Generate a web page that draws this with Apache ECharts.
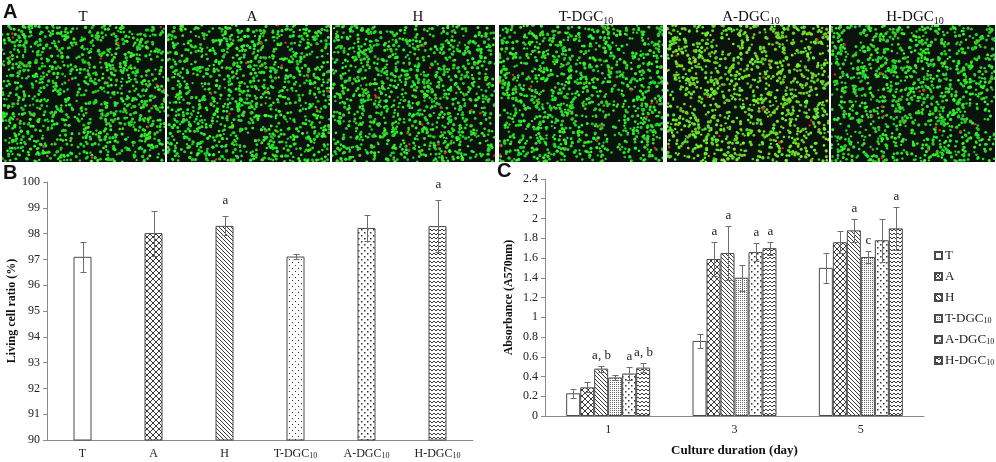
<!DOCTYPE html>
<html>
<head>
<meta charset="utf-8">
<script src="https://cdn.jsdelivr.net/npm/echarts@6/dist/echarts.min.js"></script>
<style>
html,body{margin:0;padding:0;background:#fff;}
#container{width:996px;height:462px;}
</style>
</head>
<body>
<div id="container"></div>
<script>
// groups (used for panel B categories and panel C series)
var groups = ['T', 'A', 'H', 'T-DGC10', 'A-DGC10', 'H-DGC10'];

// panel B: living cell ratio (%)
var ratioVal  = [97.10, 98.02, 98.30, 97.11, 98.22, 98.29];
var ratioErr  = [0.58, 0.87, 0.37, 0.11, 0.50, 1.01];
var ratioMark = ['', '', 'a', '', '', 'a'];

// panel C: absorbance by culture day
var days = ['1', '3', '5'];
var absT  = [0.23, 0.76, 1.50];
var absA  = [0.29, 1.59, 1.76];
var absH  = [0.48, 1.65, 1.88];
var absTD = [0.39, 1.40, 1.61];
var absAD = [0.43, 1.66, 1.78];
var absHD = [0.49, 1.70, 1.90];
var errT  = [0.045, 0.07, 0.15];
var errA  = [0.05, 0.17, 0.11];
var errH  = [0.03, 0.27, 0.12];
var errTD = [0.03, 0.13, 0.06];
var errAD = [0.07, 0.09, 0.22];
var errHD = [0.045, 0.065, 0.22];
var markT  = ['', '', ''];
var markA  = ['', 'a', ''];
var markH  = ['a, b', 'a', 'a'];
var markTD = ['', '', 'c'];
var markAD = ['a', 'a', ''];
var markHD = ['a, b', 'a', 'a'];

var SERIF = '"Liberation Serif", "Times New Roman", serif';

// ---- fill patterns ----
function pat(kind){
	var c = document.createElement('canvas');
	var sz = {cross:[6,6], diag:[4,4], fine:[2,2], sparse:[6,6], confetti:[6,6], zig:[4,4]}[kind];
	c.width = sz[0]; c.height = sz[1];
	var g = c.getContext('2d');
	g.fillStyle = '#fff'; g.fillRect(0, 0, c.width, c.height);
	g.strokeStyle = '#222'; g.fillStyle = '#333'; g.lineWidth = 0.9;
	g.beginPath();
	if(kind == 'cross'){
		g.moveTo(0,0); g.lineTo(6,6); g.moveTo(6,0); g.lineTo(0,6);
	}else if(kind == 'diag'){
		g.moveTo(-1,-1); g.lineTo(5,5); g.moveTo(3,-1); g.lineTo(5,1); g.moveTo(-1,3); g.lineTo(1,5);
	}else if(kind == 'zig'){
		g.moveTo(0,3); g.lineTo(2,1); g.lineTo(4,3);
	}
	g.stroke();
	if(kind == 'fine'){ g.fillStyle = '#666'; g.fillRect(0,0,1,1); }
	if(kind == 'sparse'){ g.fillRect(1,1,1,1); g.fillRect(4,4,1,1); }
	if(kind == 'confetti'){ g.fillRect(1,1,1.5,1.5); g.fillRect(4,4,1.5,1.5); }
	return {image: c, repeat: 'repeat'};
}
var fillsB = ['#fff', pat('cross'), pat('diag'), pat('sparse'), pat('confetti'), pat('zig')];
var fillsC = ['#fff', pat('cross'), pat('diag'), pat('fine'), pat('confetti'), pat('zig')];

// ---- microscopy-like textures for panel A ----
function cells(seed, w, h, tint){
	var c = document.createElement('canvas');
	c.width = w; c.height = h;
	var g = c.getContext('2d');
	var s = seed >>> 0;
	function r(){ s = (s * 1664525 + 1013904223) >>> 0; return s / 4294967296; }
	g.fillStyle = '#0a120c'; g.fillRect(0, 0, w, h);
	for(var i = 0; i < 1150; i++){
		var x = r() * w, y = r() * h, rad = 1.1 + r() * 0.6;
		var gr = Math.round(190 + r() * 65);
		g.fillStyle = 'rgb(' + Math.round(20 + r() * 50 + tint) + ',' + gr + ',' + Math.round(20 + r() * 40) + ')';
		g.beginPath(); g.arc(x, y, rad, 0, Math.PI * 2); g.fill();
	}
	for(var k = 0; k < 14; k++){
		g.fillStyle = '#e02424';
		g.beginPath(); g.arc(r() * w, r() * h, 1.2, 0, Math.PI * 2); g.fill();
	}
	return c;
}
var imgBoxes = [[2,165],[167,330],[332,495],[499,663],[667,829],[831,995]];
var titleX = [83, 252, 418, 586, 751, 915];

function sub(name){ return name.replace('10', '{s|10}'); }

function errBars(marks, offset, gap){
	return function(params, api){
		var cat = api.value(0), v = api.value(1), e = api.value(2);
		var x = Math.round(api.coord([cat, v])[0] + offset) + 0.5;
		var top = Math.round(api.coord([cat, v + e])[1]) + 0.5;
		var bot = Math.round(api.coord([cat, v - e])[1]) + 0.5;
		var ls = {stroke: '#6e6e6e', lineWidth: 1};
		var kids = [
			{type: 'line', shape: {x1: x, y1: top, x2: x, y2: bot}, style: ls},
			{type: 'line', shape: {x1: x - 3, y1: top, x2: x + 3, y2: top}, style: ls},
			{type: 'line', shape: {x1: x - 3, y1: bot, x2: x + 3, y2: bot}, style: ls}
		];
		var m = marks[params.dataIndex];
		if(m) kids.push({type: 'text', style: {text: m, x: x, y: top - gap, align: 'center', verticalAlign: 'bottom',
			font: '13px ' + SERIF, fill: '#222'}});
		return {type: 'group', children: kids};
	};
}

var myChart = echarts.init(document.getElementById('container'));

var graphic = [
	{type: 'text', left: 3, top: 2, style: {text: 'A', font: 'bold 20px "Liberation Sans", Arial', fill: '#111'}},
	{type: 'text', left: 3, top: 163, style: {text: 'B', font: 'bold 20px "Liberation Sans", Arial', fill: '#111'}},
	{type: 'text', left: 497, top: 161, style: {text: 'C', font: 'bold 20px "Liberation Sans", Arial', fill: '#111'}}
];
imgBoxes.forEach(function(b, i){
	graphic.push({type: 'image', x: b[0], y: 25, style: {image: cells(7919 * (i + 3), b[1] - b[0], 137, i == 4 ? 60 : 0), x: 0, y: 0, width: b[1] - b[0], height: 137}});
	graphic.push({type: 'text', x: titleX[i], y: 17, style: {text: sub(groups[i]), align: 'center', verticalAlign: 'middle',
		font: '15px ' + SERIF, fill: '#111', rich: {s: {fontSize: 10, fontFamily: SERIF, fill: '#111', padding: [9, 0, 0, 0]}}}});
});

var seriesC = [];
var absList  = [absT, absA, absH, absTD, absAD, absHD];
var errList  = [errT, errA, errH, errTD, errAD, errHD];
var markList = [markT, markA, markH, markTD, markAD, markHD];
var BW = 14;
groups.forEach(function(gname, i){
	seriesC.push({
		name: gname, type: 'bar', xAxisIndex: 1, yAxisIndex: 1, barWidth: BW, barGap: '0%',
		data: absList[i],
		itemStyle: {color: fillsC[i], borderColor: '#4a4a4a', borderWidth: 1}
	});
});
groups.forEach(function(gname, i){
	seriesC.push({
		type: 'custom', xAxisIndex: 1, yAxisIndex: 1, z: 5,
		renderItem: errBars(markList[i], (i - 2.5) * BW, 4),
		data: days.map(function(d, j){ return [j, absList[i][j], errList[i][j]]; })
	});
});

var axisLbl = {fontFamily: SERIF, fontSize: 12, color: '#222'};
var option = {
	animation: false,
	backgroundColor: '#fff',
	graphic: graphic,
	grid: [
		{left: 47, top: 182, width: 426, height: 258},
		{left: 545, top: 179, width: 379, height: 246}
	],
	legend: {
		orient: 'vertical', left: 929, top: 244, icon: 'rect', itemWidth: 7, itemHeight: 7, itemGap: 8,
		data: groups,
		formatter: function(n){ return sub(n); },
		textStyle: {fontFamily: SERIF, fontSize: 13, color: '#222', padding: [0, 0, 0, -2],
			rich: {s: {fontFamily: SERIF, fontSize: 8, color: '#222', padding: [4, 0, 0, 0]}}}
	},
	xAxis: [
		{gridIndex: 0, type: 'category', data: groups,
			axisLine: {lineStyle: {color: '#8a8a8a'}}, axisTick: {show: false},
			axisLabel: {interval: 0, fontFamily: SERIF, fontSize: 12, color: '#222', margin: 8, formatter: function(v){ return sub(v); },
				rich: {s: {fontFamily: SERIF, fontSize: 8, color: '#222', padding: [4, 0, 0, 0]}}}},
		{gridIndex: 1, type: 'category', data: days,
			axisLine: {lineStyle: {color: '#8a8a8a'}}, axisTick: {show: false},
			axisLabel: {fontFamily: SERIF, fontSize: 12, color: '#222', margin: 8},
			name: 'Culture duration (day)', nameLocation: 'middle', nameGap: 28,
			nameTextStyle: {fontFamily: SERIF, fontSize: 13, fontWeight: 'bold', color: '#111'}}
	],
	yAxis: [
		{gridIndex: 0, type: 'value', min: 90, max: 100, interval: 1,
			axisLine: {show: true, lineStyle: {color: '#8a8a8a'}}, axisTick: {show: true, length: 4, lineStyle: {color: '#8a8a8a'}},
			splitLine: {show: false}, axisLabel: Object.assign({margin: 7}, axisLbl),
			name: 'Living cell ratio (%)', nameLocation: 'middle', nameGap: 26,
			nameTextStyle: {fontFamily: SERIF, fontSize: 12, fontWeight: 'bold', color: '#111'}},
		{gridIndex: 1, type: 'value', min: 0, max: 2.4, interval: 0.2,
			axisLine: {show: true, lineStyle: {color: '#8a8a8a'}}, axisTick: {show: true, length: 4, lineStyle: {color: '#8a8a8a'}},
			splitLine: {show: false}, axisLabel: Object.assign({margin: 7}, axisLbl),
			name: 'Absorbance (A570nm)', nameLocation: 'middle', nameGap: 30,
			nameTextStyle: {fontFamily: SERIF, fontSize: 12, fontWeight: 'bold', color: '#111'}}
	],
	series: [
		{name: 'ratio', type: 'bar', xAxisIndex: 0, yAxisIndex: 0, barWidth: 18,
			data: ratioVal.map(function(v, i){ return {value: v, itemStyle: {color: fillsB[i]}}; }),
			itemStyle: {borderColor: '#4a4a4a', borderWidth: 1}},
		{type: 'custom', xAxisIndex: 0, yAxisIndex: 0, z: 5,
			renderItem: errBars(ratioMark, 0, 9),
			data: ratioVal.map(function(v, i){ return [i, v, ratioErr[i]]; })}
	].concat(seriesC)
};
myChart.setOption(option);
</script>
</body>
</html>
